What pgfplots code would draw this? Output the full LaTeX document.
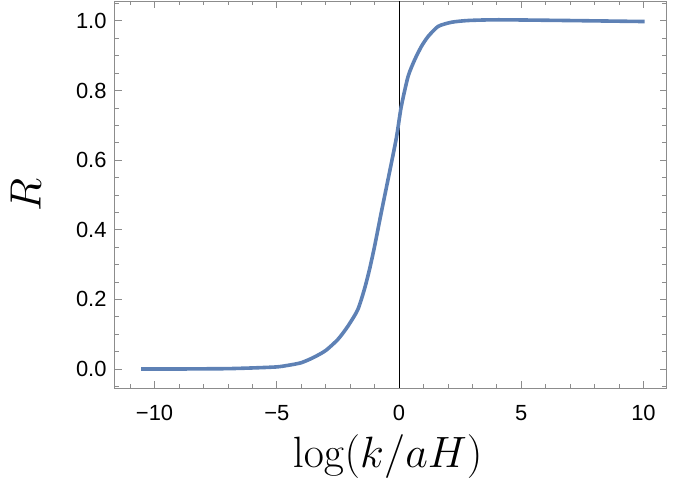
\documentclass[border=0pt]{standalone}
\usepackage{fix-cm}
\usepackage[no-math]{fontspec}
\setmainfont{Liberation Sans}
\usepackage{pgfplots}
\pgfplotsset{compat=1.18}
\definecolor{mblue}{RGB}{94,129,181}
\definecolor{framegray}{RGB}{140,140,140}
\begin{document}
\begin{tikzpicture}
\begin{axis}[
  scale only axis, width=552bp, height=387bp,
  at={(0,0)}, anchor=south west,
  xmin=-11.63, xmax=10.95, ymin=-0.0546, ymax=1.057,
  axis line style={framegray, line width=0.8bp},
  tick style={framegray, line width=0.7bp},
  tick align=inside,
  major tick length=7bp, minor tick length=4.5bp,
  xtick={-10,-5,0,5,10},
  xticklabels={−10,−5,0,5,10},
  minor xtick={-11,-9,-8,-7,-6,-4,-3,-2,-1,1,2,3,4,6,7,8,9},
  ytick={0,0.2,0.4,0.6,0.8,1.0},
  yticklabels={0.0,0.2,0.4,0.6,0.8,1.0},
  minor ytick={-0.05,0.05,0.1,0.15,0.25,0.3,0.35,0.45,0.5,0.55,0.65,0.7,0.75,0.85,0.9,0.95,1.05},
  ticklabel style={font=\fontsize{22}{26}\selectfont, inner sep=0pt},
  yticklabel style={anchor=east, xshift=-8bp},
  xticklabel style={anchor=north, yshift=-17bp},
  xlabel={$\log(k/aH)$},
  ylabel={$R$},
  label style={font=\fontsize{44}{50}\selectfont},
  xlabel style={at={(axis description cs:0.5,0)}, anchor=base, yshift=-79bp, xshift=-3bp},
  ylabel style={at={(axis description cs:0,0.5)}, anchor=center, yshift=89bp},
]
\addplot[black, line width=0.8bp] coordinates {(0,-0.0546) (0,1.057)};
\addplot[mblue, line width=3.6bp, smooth, tension=0.4] coordinates {
(-10.55,0) (-9,0) (-8,0.0005) (-7,0.001) (-6,0.003) (-5,0.006) (-4.5,0.011)
(-4,0.018) (-3.5,0.033) (-3,0.053) (-2.5,0.085) (-2.1,0.122) (-1.69,0.170)
(-1.42,0.228) (-1.21,0.285) (-1.0,0.352) (-0.73,0.448) (-0.45,0.544)
(-0.11,0.663) (0.09,0.753) (0.37,0.84) (0.64,0.888) (0.92,0.927) (1.19,0.955)
(1.6,0.984) (2.15,0.996) (2.84,1.001) (4.07,1.003) (6.81,1.001) (10.05,0.998)
};
\end{axis}
\path (-114.7bp,-113bp) rectangle (559.3bp,388bp);
\end{tikzpicture}
\end{document}
